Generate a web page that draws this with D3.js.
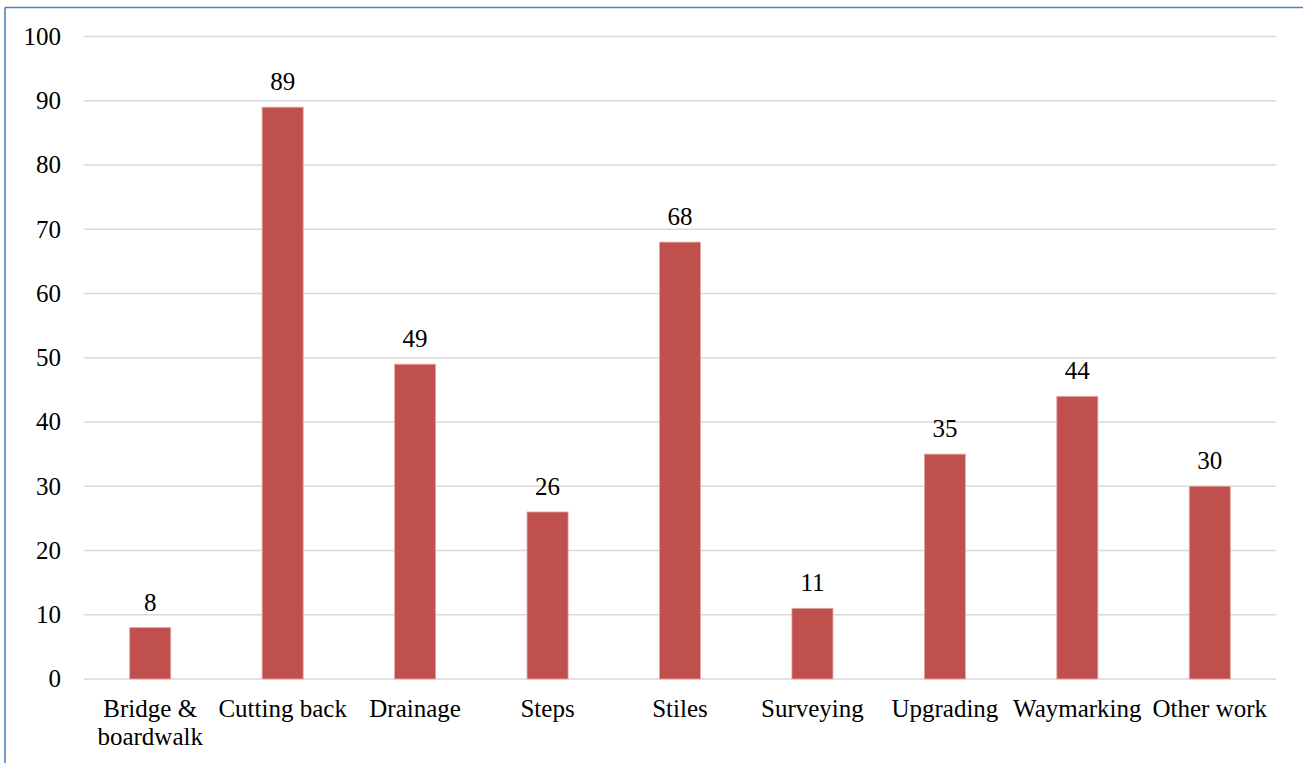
<!DOCTYPE html>
<html>
<head>
<meta charset="utf-8">
<script src="https://cdn.jsdelivr.net/npm/d3@7"></script>
<style>
  html, body { margin: 0; padding: 0; background: #fff; }
  svg { display: block; }
  text { font-family: "Liberation Serif", "DejaVu Serif", serif; fill: #000; }
</style>
</head>
<body>
<script>
const categories = ["Bridge & boardwalk", "Cutting back", "Drainage", "Steps", "Stiles", "Surveying", "Upgrading", "Waymarking", "Other work"];
const categoryLines = [["Bridge &", "boardwalk"], ["Cutting back"], ["Drainage"], ["Steps"], ["Stiles"], ["Surveying"], ["Upgrading"], ["Waymarking"], ["Other work"]];
const values = [8, 89, 49, 26, 68, 11, 35, 44, 30];
const yTicks = [0, 10, 20, 30, 40, 50, 60, 70, 80, 90, 100];

(function () {
const W = 1303, H = 763;
const plotLeft = 84, plotRight = 1276, plotTop = 36.5, plotBottom = 679;
const fs = 25;

const svg = d3.select("body").append("svg").attr("width", W).attr("height", H);

// frame
svg.append("line").attr("x1", 5).attr("x2", W).attr("y1", 7.5).attr("y2", 7.5)
  .attr("stroke", "#4F81BD").attr("stroke-width", 1.6);
svg.append("line").attr("x1", 5).attr("x2", 5).attr("y1", 7.5).attr("y2", H)
  .attr("stroke", "#4F81BD").attr("stroke-width", 1.6);

const x = d3.scaleBand().domain(categories).range([plotLeft, plotRight]).padding(0);
const y = d3.scaleLinear().domain([0, 100]).range([plotBottom, plotTop]);

// gridlines
svg.append("g").selectAll("line").data(yTicks).join("line")
  .attr("x1", plotLeft).attr("x2", plotRight)
  .attr("y1", d => y(d)).attr("y2", d => y(d))
  .attr("stroke", "#d9d9d9").attr("stroke-width", 1.5);

// y tick labels
svg.append("g").selectAll("text").data(yTicks).join("text")
  .attr("x", 61).attr("y", d => y(d))
  .attr("dy", "0.33em")
  .attr("text-anchor", "end")
  .attr("font-size", fs)
  .text(d => d);

// bars
const barW = x.bandwidth() * 0.31;
svg.append("g").selectAll("rect").data(values).join("rect")
  .attr("x", (d, i) => x(categories[i]) + x.bandwidth() / 2 - barW / 2)
  .attr("width", barW)
  .attr("y", d => y(d))
  .attr("height", d => y(0) - y(d))
  .attr("fill", "#C0504D")
  .attr("stroke", "#e3aaa8").attr("stroke-width", 0.8);

// value labels
svg.append("g").selectAll("text").data(values).join("text")
  .attr("x", (d, i) => x(categories[i]) + x.bandwidth() / 2)
  .attr("y", d => y(d) - 17)
  .attr("text-anchor", "middle")
  .attr("font-size", fs)
  .text(d => d);

// category labels
const cl = svg.append("g").selectAll("text").data(categoryLines).join("text")
  .attr("x", (d, i) => x(categories[i]) + x.bandwidth() / 2)
  .attr("y", 717)
  .attr("text-anchor", "middle")
  .attr("font-size", fs);
cl.selectAll("tspan").data(d => d).join("tspan")
  .attr("x", function() { return d3.select(this.parentNode).attr("x"); })
  .attr("dy", (d, j) => j === 0 ? 0 : 27.5)
  .text(d => d);
})();
</script>
</body>
</html>
